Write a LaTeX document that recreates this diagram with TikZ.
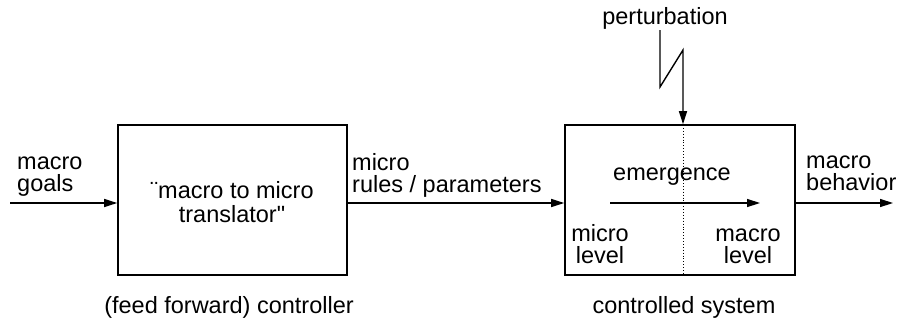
\documentclass[tikz,border=0pt]{standalone}
\usepackage{fontspec}
\newfontfamily\plainsans{Liberation Sans}
\usetikzlibrary{arrows.meta}
\tikzset{
  lbl/.style={inner sep=0pt, font=\plainsans\fontsize{23.5}{22}\selectfont},
  blk/.style={draw, line width=1.6pt, inner sep=0pt},
  conn/.style={line width=1.4pt, -{Triangle[length=13pt,width=8pt]}},
}
\begin{document}
\begin{tikzpicture}[x=1pt,y=-1pt]
\useasboundingbox (0,0) rectangle (897,322);
% blocks
\node[blk, minimum width=229pt, minimum height=150pt] (ctrl) at (232.5,200) {};
\node[blk, minimum width=230pt, minimum height=150pt] (sys) at (680,200) {};
% box text
\node[lbl, align=center, anchor=base] (trans) at (232,222) {¨macro to micro\\[2pt]translator"};
% input / output coordinates
\coordinate (in) at (10,203);
\coordinate (out) at (893,203);
\draw[conn] (in) -- (in -| ctrl.west);
\draw[conn] (ctrl.east |- in) -- (sys.west |- in);
\draw[conn] (sys.east |- in) -- (out);
% labels on connectors
\node[lbl, align=left, anchor=base west] (goals) at (17,191) {macro\\goals};
\node[lbl, align=left, anchor=base west] (rules) at (352,192) {micro\\rules / parameters};
\node[lbl, align=left, anchor=base west] (behav) at (806,190) {macro\\behavior};
% inside the system
\coordinate (dtop) at (683,125);
\coordinate (dbot) at (683,275);
\draw[dotted, line width=0.9pt] (dtop) -- (dbot);
\coordinate (ea) at (610,203);
\coordinate (eb) at (760,203);
\draw[conn] (ea) -- (eb);
\node[lbl, anchor=base] (emer) at (672,180) {emergence};
\node[lbl, align=center, anchor=base] (micl) at (600,263) {micro\\level};
\node[lbl, align=center, anchor=base] (macl) at (748,263) {macro\\level};
% perturbation
\node[lbl, anchor=base] (pert) at (665,24) {perturbation};
\coordinate (p1) at (660,30);
\coordinate (p2) at (660,87);
\coordinate (p3) at (683,50);
\draw[conn] (p1) -- (p2) -- (p3) -- (sys.north -| p3);
% captions
\node[lbl, anchor=base] (capc) at (229,313) {(feed forward) controller};
\node[lbl, anchor=base] (caps) at (684,313) {controlled system};
\end{tikzpicture}
\end{document}
